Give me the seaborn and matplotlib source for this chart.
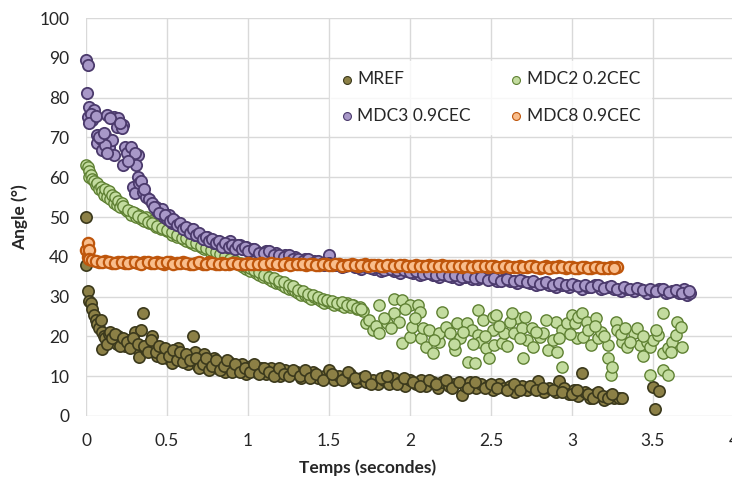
import matplotlib
matplotlib.use('Agg')
import matplotlib.pyplot as plt
import seaborn as sns

# Data (time in s, angle in degrees)
t_mref = [0.00, 0.00, 0.01, 0.02, 0.03, 0.04, 0.05, 0.06, 0.07, 0.08,
          0.09, 0.10, 0.10, 0.11, 0.12, 0.14, 0.15, 0.17, 0.19, 0.20,
          0.22, 0.24, 0.26, 0.28, 0.30, 0.31, 0.33, 0.34, 0.35, 0.37,
          0.39, 0.41, 0.42, 0.44, 0.46, 0.48, 0.50, 0.52, 0.53, 0.55,
          0.57, 0.59, 0.61, 0.63, 0.66, 0.67, 0.69, 0.71, 0.73, 0.75,
          0.77, 0.79, 0.81, 0.84, 0.86, 0.88, 0.91, 0.93, 0.96, 0.99,
          1.02, 1.05, 1.08, 1.11, 1.14, 1.17, 1.20, 1.23, 1.26, 1.30,
          1.33, 1.36, 1.40, 1.43, 1.47, 1.50, 1.53, 1.56, 1.60, 1.63,
          1.67, 1.70, 1.73, 1.77, 1.80, 1.84, 1.87, 1.90, 1.94, 1.97,
          2.00, 2.04, 2.07, 2.10, 2.14, 2.17, 2.20, 2.24, 2.27, 2.32,
          2.34, 2.37, 2.41, 2.44, 2.48, 2.51, 2.55, 2.58, 2.62, 2.65,
          2.69, 2.72, 2.76, 2.79, 2.83, 2.86, 2.90, 2.92, 2.95, 2.98,
          3.01, 3.04, 3.06, 3.08, 3.11, 3.14, 3.17, 3.20, 3.23, 3.26,
          3.29, 3.31, 3.50, 3.51, 3.54,
          0.13, 0.16, 0.18, 0.21, 0.23, 0.25, 0.27, 0.29, 0.32, 0.36,
          0.38, 0.40, 0.43, 0.45, 0.47, 0.49, 0.51, 0.54, 0.56, 0.58,
          0.60, 0.62, 0.64, 0.68, 0.70, 0.72, 0.74, 0.76, 0.78, 0.80,
          0.83, 0.85, 0.87, 0.90, 0.92, 0.95, 0.98, 1.01, 1.04, 1.07,
          1.10, 1.13, 1.16, 1.19, 1.22, 1.25, 1.28, 1.32, 1.35, 1.38,
          1.42, 1.46, 1.52, 1.58, 1.62, 1.66, 1.72, 1.76, 1.82, 1.86,
          1.92, 1.96, 2.02, 2.06, 2.12, 2.16, 2.22, 2.26, 2.30, 2.36,
          2.40, 2.46, 2.50, 2.54, 2.60, 2.64, 2.68, 2.74, 2.78, 2.82,
          2.88, 2.94, 3.00, 3.03, 3.10, 3.13, 3.16, 3.19, 3.22, 3.25]
a_mref = [50, 38, 31.5, 29, 28.5, 27, 25.5, 24, 23, 22,
          24, 21, 16.8, 20, 19.5, 20.5, 21, 19, 18, 20,
          18.5, 17.5, 19, 18, 21, 17, 14.8, 21.5, 26, 16.5,
          18, 20, 17, 15, 16.5, 15.5, 14.5, 16, 13.3, 15.5,
          17, 14.5, 15, 13, 20, 16, 12.5, 14, 15.5, 12,
          13.5, 14.5, 12, 13, 11, 13.5, 12, 11.5, 13, 10.5,
          12.5, 11, 12, 10.5, 12, 11, 10, 11.5, 10.5, 11,
          9.5, 10.5, 11, 9.5, 10, 11.5, 9, 10, 9.5, 10.5,
          8.5, 9.5, 8.5, 9, 8, 9, 8, 9.5, 8.5, 7.5,
          9, 8, 9, 7.5, 8.5, 7, 8.5, 7.5, 8, 5.3,
          7.5, 8.5, 7, 8, 7.5, 6.5, 8, 7, 7.5, 6,
          7.5, 6.5, 7, 8.8, 6, 7, 6, 8.8, 7, 5.5,
          6.5, 5, 10.8, 6, 4.5, 5.5, 5, 4, 5, 4.5,
          4.5, 4.5, 7.3, 1.7, 6.3,
          18, 19.5, 20.5, 17.5, 19.5, 18.5, 17, 19.5, 18, 17.5,
          16, 19, 16, 17.5, 14.5, 17, 15, 16.5, 14, 16,
          13.5, 15.5, 14, 14.5, 12, 13, 14.5, 11.5, 12.5, 14,
          11.5, 12.5, 14, 11, 13, 11, 12, 11, 13, 10.5,
          12, 11, 10, 12, 10.5, 10, 11.5, 10, 11.5, 9.5,
          10.5, 9, 10.5, 9, 11, 9.5, 10, 8, 9.5, 10,
          8, 9.5, 8.5, 7.5, 9, 8, 9, 7, 8.5, 7,
          8.5, 7, 8, 7, 6.5, 8, 6.5, 7.5, 6.5, 7,
          6.5, 6, 5.5, 6.5, 5.5, 4.5, 6, 5, 4.5, 5.5]

t_mdc2 = [0.00, 0.01, 0.02, 0.02, 0.03, 0.04, 0.05, 0.06, 0.07, 0.08,
          0.09, 0.10, 0.11, 0.12, 0.13, 0.14, 0.15, 0.16, 0.17, 0.18,
          0.19, 0.20, 0.21, 0.22, 0.24, 0.25, 0.27, 0.28, 0.30, 0.31,
          0.33, 0.34, 0.36, 0.37, 0.39, 0.40, 0.42, 0.43, 0.45, 0.46,
          0.48, 0.50, 0.51, 0.53, 0.55, 0.56, 0.58, 0.60, 0.62, 0.63,
          0.65, 0.67, 0.69, 0.71, 0.73, 0.75, 0.77, 0.79, 0.81, 0.83,
          0.85, 0.87, 0.89, 0.91, 0.93, 0.95, 0.97, 0.99, 1.01, 1.03,
          1.05, 1.07, 1.09, 1.11, 1.13, 1.15, 1.17, 1.19, 1.21, 1.23,
          1.25, 1.27, 1.29, 1.31, 1.33, 1.35, 1.37, 1.39, 1.41, 1.43,
          1.45, 1.47, 1.49, 1.51, 1.53, 1.55, 1.57, 1.59, 1.61, 1.63,
          1.65, 1.67, 1.69, 1.71, 1.73, 1.75, 1.77, 1.79, 1.81, 1.81,
          1.86, 1.90, 1.90, 1.93, 1.95, 1.95, 2.00, 2.00, 2.01, 2.05,
          2.06, 2.07, 2.08, 2.10, 2.12, 2.14, 2.18, 2.18, 2.20, 2.22,
          2.25, 2.28, 2.29, 2.31, 2.35, 2.36, 2.38, 2.40, 2.42, 2.42,
          2.43, 2.45, 2.47, 2.49, 2.51, 2.51, 2.52, 2.57, 2.58, 2.64,
          2.66, 2.69, 2.70, 2.72, 2.75, 2.76, 2.80, 2.82, 2.85, 2.88,
          2.90, 2.91, 2.94, 2.94, 2.97, 3.00, 3.02, 3.03, 3.04, 3.06,
          3.07, 3.09, 3.12, 3.15, 3.16, 3.18, 3.22, 3.22, 3.24, 3.25,
          3.27, 3.28, 3.31, 3.34, 3.38, 3.40, 3.42, 3.46, 3.48, 3.48,
          3.50, 3.53, 3.56, 3.56, 3.56, 3.59, 3.59, 3.62, 3.64, 3.65,
          3.67, 3.68,
          1.84, 1.88, 1.97, 2.03, 2.15, 2.27, 2.33, 2.39, 2.46, 2.55,
          2.60, 2.62, 2.68, 2.78, 2.84, 2.92, 2.99, 3.10, 3.14, 3.20,
          3.30, 3.33, 3.36, 3.44, 3.52, 3.61, 3.44, 2.53, 2.63, 2.71,
          0.23, 0.26, 0.29, 0.32, 0.35, 0.38, 0.41, 0.44, 0.47, 0.50,
          0.53, 0.56, 0.59, 0.62, 0.65, 0.68, 0.71, 0.74, 0.77, 0.80,
          0.83, 0.86, 0.89, 0.92, 0.95, 0.98, 1.01, 1.04, 1.07, 1.10,
          1.13, 1.16, 1.19, 1.22, 1.25, 1.28, 1.31, 1.34, 1.37, 1.40,
          1.43, 1.46, 1.49, 1.52, 1.55, 1.58, 1.61, 1.64, 1.67, 1.70]
a_mdc2 = [63, 62.5, 61.5, 60, 60.5, 59.5, 59, 58, 58.5, 57,
          57.5, 56.5, 55.5, 57, 55, 56.5, 54.5, 55.5, 53.5, 55,
          53, 54, 52.5, 53.5, 52, 51.5, 51.5, 50.5, 51, 50,
          50.5, 49.5, 49, 50, 48.5, 49, 48, 47.5, 48, 47,
          47.5, 46.5, 47, 45.5, 46, 45, 45.5, 44.5, 44, 45,
          43.5, 43, 43.5, 42.5, 42, 42.5, 41, 41.5, 40.5, 40,
          40.5, 39.5, 39, 39.5, 38.5, 38, 37.5, 37, 36.5, 37,
          36, 35.5, 35, 35.5, 34.5, 34, 33.5, 33.5, 33, 32.5,
          32, 32, 31.5, 31, 30.5, 30.5, 30, 29.5, 30, 29.5,
          29, 28.5, 29, 28.5, 28, 28.5, 28, 27.5, 28.5, 27.5,
          28, 27, 27.5, 26.5, 23.3, 24, 21.6, 22.5, 20.8, 27.9,
          23.3, 25.8, 29.4, 23.6, 29.1, 18.3, 28, 19.8, 22.4, 28,
          26.1, 19.6, 22.1, 17.3, 21.6, 15.8, 18.6, 20.8, 26.1, 22.4,
          20.8, 16.6, 23.3, 19.6, 23.3, 13.6, 21.6, 13.3, 26.6, 20.3,
          18.6, 24.1, 17.1, 14.6, 24.9, 21.6, 17.8, 18.3, 20.8, 20.8,
          24.6, 22.1, 14.6, 19.1, 22.1, 17.3, 19.8, 20.8, 16.6, 19.1,
          23.6, 16.1, 12.3, 21.6, 23.3, 25.4, 23.3, 19.6, 24.9, 25.8,
          19.8, 23.6, 17.8, 24.6, 19.6, 21.1, 14.6, 17.8, 10.3, 12.3,
          23.6, 21.6, 18.6, 17.3, 20.8, 22.1, 17.8, 18.6, 17.3, 10.3,
          19.1, 20.3, 25.8, 11.6, 15.8, 10.3, 17.1, 18.6, 20.3, 23.6,
          22.4, 17.3,
          24.5, 22, 27, 24.5, 19, 18, 21, 18, 20, 22.5,
          17.5, 23.5, 19.5, 21, 24, 19.5, 20.5, 21.5, 22.5, 20,
          20.5, 22, 18.5, 20, 21.5, 16, 15, 25.5, 26, 25,
          52.8, 51.8, 51.2, 50.2, 49.8, 48.8, 48.6, 47.8, 47.2, 46.8,
          46.2, 45.6, 44.8, 44.6, 43.8, 43.4, 42.8, 42.2, 41.8, 41.2,
          40.6, 40.2, 39.4, 39, 38.4, 37.8, 37.2, 36.6, 36.2, 35.4,
          35, 34.6, 34, 33.6, 33, 32.6, 31.6, 31.4, 30.6, 30.4,
          29.8, 29.4, 29.2, 28.8, 28.4, 28.6, 28, 27.8, 27.2, 26.8]

t_mdc3 = [0.00, 0.01, 0.005, 0.02, 0.05, 0.01, 0.04, 0.03, 0.02, 0.06,
          0.13, 0.17, 0.20, 0.19, 0.23, 0.22, 0.15, 0.21, 0.07, 0.12,
          0.07, 0.10, 0.14, 0.16, 0.17, 0.09, 0.12, 0.08, 0.13, 0.11,
          0.24, 0.27, 0.29, 0.32, 0.23, 0.31, 0.25, 0.28, 0.30, 0.26,
          0.32, 0.29, 0.30, 0.33, 0.35, 0.34, 0.37, 0.36, 0.39, 0.41,
          0.43, 0.44, 0.46, 0.47, 0.48, 0.50, 0.51, 0.53, 0.55, 0.57,
          0.59, 0.61, 0.63, 0.65, 0.67, 0.69, 0.71, 0.73, 0.75, 0.77,
          0.79, 0.81, 0.83, 0.85, 0.87, 0.89, 0.91, 0.93, 0.95, 0.97,
          0.99, 1.01, 1.03, 1.05, 1.08, 1.11, 1.14, 1.17, 1.20, 1.23,
          1.26, 1.29, 1.32, 1.35, 1.38, 1.41, 1.44, 1.47, 1.50, 1.50,
          1.54, 1.58, 1.62, 1.66, 1.70, 1.74, 1.78, 1.82, 1.86, 1.90,
          1.94, 1.98, 2.02, 2.06, 2.10, 2.14, 2.18, 2.22, 2.26, 2.30,
          2.34, 2.38, 2.42, 2.46, 2.50, 2.54, 2.58, 2.62, 2.66, 2.70,
          2.74, 2.78, 2.82, 2.86, 2.90, 2.94, 2.98, 3.02, 3.06, 3.10,
          3.14, 3.18, 3.22, 3.26, 3.30, 3.34, 3.38, 3.42, 3.46, 3.50,
          3.54, 3.58, 3.62, 3.66, 3.69, 3.71, 3.73,
          0.42, 0.45, 0.49, 0.52, 0.54, 0.56, 0.58, 0.60, 0.62, 0.64,
          0.66, 0.68, 0.70, 0.72, 0.74, 0.76, 0.78, 0.80, 0.82, 0.84,
          0.86, 0.88, 0.90, 0.92, 0.94, 0.96, 0.98,
          1.00, 1.04, 1.07, 1.10, 1.13, 1.16, 1.19, 1.22, 1.25, 1.28,
          1.31, 1.34, 1.37, 1.40, 1.43, 1.46,
          1.52, 1.56, 1.60, 1.64, 1.68, 1.72, 1.76, 1.80, 1.84, 1.88,
          1.92, 1.96, 2.00, 2.04, 2.08, 2.12, 2.16, 2.20, 2.24, 2.28,
          2.32, 2.36, 2.40, 2.44, 2.48, 2.52, 2.56, 2.60, 2.64, 2.68,
          2.72, 2.76, 2.80, 2.84, 2.88, 2.92, 2.96, 3.00, 3.04, 3.08,
          3.12, 3.16, 3.20, 3.24, 3.28, 3.32, 3.36, 3.40, 3.44, 3.48,
          3.52, 3.56, 3.60, 3.64, 3.68, 3.72]
a_mdc3 = [89.4, 88.2, 81.2, 77.6, 76.9, 75.1, 74.4, 76, 73.5, 75.5,
          75.6, 75.1, 74.9, 72.6, 73.1, 72.4, 75, 73.5, 70.6, 70.6,
          68.6, 66.8, 67.6, 69.3, 65.6, 69.5, 68, 70, 66, 71,
          67.6, 66.8, 64.8, 65.6, 63.1, 63.1, 66, 67.5, 66, 64,
          60.1, 57.5, 56.0, 58.5, 56.3, 59, 55.0, 57, 54.5, 53.5,
          52.5, 51.5, 51, 52, 50, 49.5, 50.5, 48.5, 49, 48,
          47.5, 47, 46.5, 47, 45.5, 46, 45, 44.5, 45, 44,
          43.5, 44, 43, 43.5, 42.5, 44, 43, 42.5, 43, 42,
          42.5, 41.5, 42, 41.5, 41, 41.5, 40.5, 41, 40, 40.5,
          39.5, 40, 39, 39.5, 38.5, 39, 38.5, 38, 40.4, 38.5,
          38, 37.5, 38, 37.5, 37, 37.5, 37, 36.5, 37, 36.5,
          36, 36.5, 36, 35.5, 36, 35.5, 35, 35.5, 35, 34.5,
          35, 34.5, 34.5, 35, 34.5, 34, 34.5, 34, 33.5, 34,
          33.5, 33, 33.5, 33, 32.5, 33, 32.5, 33, 32, 32.5,
          33, 32, 32.5, 32, 31.5, 32, 31.5, 32, 31, 31.5,
          32, 31, 31.5, 31, 32, 30.5, 31,
          52.5, 51, 50.5, 49, 49.5, 48, 48.5, 47, 47.5, 46,
          47, 45.5, 46, 44.5, 45, 44, 44.5, 43.5, 44, 42.5,
          43.5, 42.5, 43, 42, 43, 42, 42.5,
          41.5, 42, 41, 41, 41.5, 40.5, 40.5, 40, 40.5, 39.5,
          39.5, 39, 39.5, 38.5, 39, 38.5,
          38.3, 38, 37.8, 38, 37.4, 37.6, 37.2, 37.4, 36.8, 37,
          36.6, 36.8, 36.2, 36.4, 35.8, 36, 35.4, 35.8, 35.2, 35.4,
          34.8, 35.2, 34.6, 35, 34.2, 34.6, 34, 34.4, 33.8, 34.2,
          33.6, 33.8, 33.2, 33.6, 33, 33.4, 32.8, 33.2, 32.6, 33,
          32.4, 32.8, 32.2, 32.6, 32, 32.4, 31.8, 32.2, 31.6, 32,
          31.4, 31.8, 31.2, 31.6, 30.8, 31.4]

t_mdc8 = [0.00, 0.01, 0.01, 0.02, 0.02,
          0.04, 0.08, 0.12, 0.16, 0.20, 0.24, 0.28, 0.32, 0.36, 0.40,
          0.44, 0.48, 0.52, 0.56, 0.60, 0.64, 0.68, 0.72, 0.76, 0.80,
          0.84, 0.88, 0.92, 0.96, 1.00, 1.04, 1.08, 1.12, 1.16, 1.20,
          1.24, 1.28, 1.32, 1.36, 1.40, 1.44, 1.48, 1.52, 1.56, 1.60,
          1.64, 1.68, 1.72, 1.76, 1.80, 1.84, 1.88, 1.92, 1.96, 2.00,
          2.04, 2.08, 2.12, 2.16, 2.20, 2.24, 2.28, 2.32, 2.36, 2.40,
          2.44, 2.48, 2.52, 2.56, 2.60, 2.64, 2.68, 2.72, 2.76, 2.80,
          2.84, 2.88, 2.92, 2.96, 3.00, 3.04, 3.08, 3.12, 3.16, 3.20,
          3.24, 3.28,
          0.06, 0.10, 0.14, 0.18, 0.22, 0.26, 0.30, 0.34, 0.38, 0.42,
          0.46, 0.50, 0.54, 0.58, 0.62, 0.66, 0.70, 0.74, 0.78, 0.82,
          0.86, 0.90, 0.94, 0.98, 1.02, 1.06, 1.10, 1.14, 1.18, 1.22,
          1.26, 1.30, 1.34, 1.38, 1.42, 1.46, 1.50, 1.54, 1.58, 1.62,
          1.66, 1.70, 1.74, 1.78, 1.82, 1.86, 1.90, 1.94, 1.98, 2.02,
          2.06, 2.10, 2.14, 2.18, 2.22, 2.26, 2.30, 2.34, 2.38, 2.42,
          2.46, 2.50, 2.54, 2.58, 2.62, 2.66, 2.70, 2.74, 2.78, 2.82,
          2.86, 2.90, 2.94, 2.98, 3.02, 3.06, 3.10, 3.14, 3.18, 3.22,
          3.26]
a_mdc8 = [41.7, 43.4, 40, 41.7, 39.5,
          39.2, 38.6, 38.9, 38.5, 38.8, 38.4, 38.7, 38.5, 38.8, 38.4,
          38.6, 38.3, 38.7, 38.4, 38.6, 38.2, 38.5, 38.3, 38.6, 38.2,
          38.5, 38.3, 38.5, 38.1, 38.4, 38.2, 38.5, 38.1, 38.3, 38.0,
          38.4, 38.1, 38.3, 38.0, 38.3, 37.9, 38.2, 38.0, 38.2, 37.9,
          38.1, 37.8, 38.1, 37.9, 38.0, 37.7, 38.0, 37.8, 38.0, 37.7,
          37.9, 37.7, 38.0, 37.6, 37.9, 37.7, 37.8, 37.5, 37.8, 37.6,
          37.8, 37.5, 37.7, 37.5, 37.8, 37.4, 37.7, 37.5, 37.6, 37.3,
          37.6, 37.4, 37.6, 37.3, 37.5, 37.3, 37.5, 37.2, 37.4, 37.3,
          37.4, 37.4,
          38.9, 38.6, 38.7, 38.4, 38.7, 38.5, 38.6, 38.3, 38.6, 38.5,
          38.4, 38.6, 38.3, 38.5, 38.4, 38.3, 38.6, 38.2, 38.4, 38.3,
          38.2, 38.5, 38.3, 38.3, 38.1, 38.3, 38.2, 38.4, 38.1, 38.2,
          38.0, 38.2, 38.1, 38.2, 38.0, 38.1, 37.9, 38.1, 37.8, 38.0,
          37.9, 37.9, 37.8, 38.0, 37.8, 37.9, 37.7, 37.9, 37.8, 37.8,
          37.6, 37.8, 37.7, 37.8, 37.6, 37.7, 37.6, 37.7, 37.5, 37.7,
          37.6, 37.6, 37.4, 37.6, 37.5, 37.5, 37.4, 37.6, 37.4, 37.5,
          37.3, 37.5, 37.4, 37.4, 37.2, 37.4, 37.3, 37.4, 37.2, 37.3,
          37.3]

# name, times, angles, fill, edge, edge width
series = [
    ('MREF', t_mref, a_mref, '#8c8046', '#3b391c', 1.2),
    ('MDC2 0.2CEC', t_mdc2, a_mdc2, '#c3dc9f', '#5f8133', 1.0),
    ('MDC3 0.9CEC', t_mdc3, a_mdc3, '#a898c8', '#4b3a6c', 1.3),
    ('MDC8 0.9CEC', t_mdc8, a_mdc8, '#f9bd8b', '#bf560c', 1.6),
]

sns.set_style('white')
plt.rcParams['font.family'] = ['Lato', 'DejaVu Sans']

fig = plt.figure(figsize=(7.32, 4.82), dpi=100)
ax = fig.add_axes([86 / 732, 66 / 482, 648 / 732, 398 / 482])

for name, t, a, fill, edge, lw in series:
    sns.scatterplot(x=t, y=a, ax=ax, s=66, color=fill, edgecolor=edge,
                    linewidth=lw, label=name, clip_on=False, zorder=3)

ax.set_xlim(0, 4)
ax.set_ylim(0, 100)
ax.set_xticks([0, 0.5, 1, 1.5, 2, 2.5, 3, 3.5, 4])
ax.set_xticklabels(['0', '0.5', '1', '1.5', '2', '2.5', '3', '3.5', '4'])
ax.set_yticks(range(0, 101, 10))
ax.grid(True, color='#d9d9d9', linewidth=1)
for sp in ax.spines.values():
    sp.set_visible(False)
ax.tick_params(axis='both', length=5, width=1, color='#d9d9d9',
               labelsize=12.5, labelcolor='#262626', pad=7)

ax.set_xlabel('Temps (secondes)', fontsize=12.5, fontweight='bold', va='center')
ax.set_ylabel('Angle (°)', fontsize=12.5, fontweight='bold', va='center')
ax.xaxis.set_label_coords(0.435, -0.131)
ax.yaxis.set_label_coords(-0.102, 0.5)

# legend filled row by row like the reference
handles, labels = ax.get_legend_handles_labels()
order = [0, 2, 1, 3]
leg = ax.legend([handles[i] for i in order], [labels[i] for i in order],
                loc='upper left', bbox_to_anchor=(321 / 732, 1 - 52 / 482),
                bbox_transform=fig.transFigure, ncol=2, frameon=True,
                fontsize=12.5, markerscale=0.7, handletextpad=0.2,
                handlelength=0.8, columnspacing=2.2, labelspacing=1.2,
                borderpad=0.6, fancybox=False)
leg.get_frame().set_facecolor('white')
leg.get_frame().set_edgecolor('white')
for h in leg.legend_handles:
    h.set_linewidth(0.8)
leg.set_zorder(5)

fig.savefig('out.png', dpi=100)
